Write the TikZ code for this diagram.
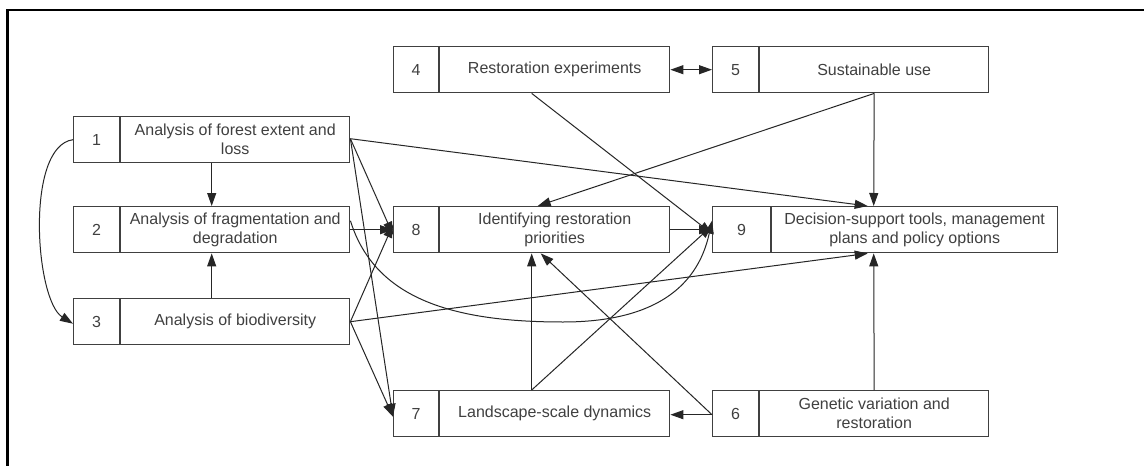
\documentclass[tikz,border=0pt]{standalone}
\usepackage{fontspec}
\setmainfont{Liberation Sans}
\usetikzlibrary{arrows.meta,calc}
\tikzset{
  box/.style={draw=black!75, line width=1.4pt, minimum height=46pt, inner sep=0pt, fill=white},
  boxline/.style={draw=black!75, line width=1.4pt},
  lbl/.style={font=\fontsize{16}{19}\selectfont, align=center, text=black!75, inner sep=0pt},
  conn/.style={draw=black!85, line width=1pt, -{Triangle[length=13pt,width=9pt]}},
  dconn/.style={draw=black!85, line width=1pt, {Triangle[length=13pt,width=9pt]}-{Triangle[length=13pt,width=9pt]}},
  frame/.style={draw=black, line width=2.6pt}
}
\newcommand\fbx[7]{%
  \node[box, minimum width=#4pt, anchor=north west] (#1) at (#2,#3) {};
  \draw[boxline] ([xshift=#5pt]#1.north west) -- ([xshift=#5pt]#1.south west);
  \node[lbl] (#1n) at ([xshift=#5pt/2]#1.west) {#6};
  \node[lbl] (#1t) at ([xshift=#5pt/2]#1.center) {#7};
}
\begin{document}
\begin{tikzpicture}[x=1pt,y=-1pt]
\useasboundingbox[fill=white] (0,0) rectangle (1144,466);
\coordinate (fa) at (7.5,466);
\coordinate (fb) at (7.5,10);
\coordinate (fc) at (1144,10);
\draw[frame] (fa) -- (fb) -- (fc);

\coordinate (c2a) at (375,300);
\coordinate (c2b) at (455,322);
\coordinate (c2m) at (563,322);
\coordinate (c2c) at (650,322);
\coordinate (c2d) at (697,290);
\coordinate (k1a) at (25,146);
\coordinate (k1b) at (35,300);

\fbx{b1}{73}{116}{276}{47}{1}{Analysis of forest extent and\\loss}
\fbx{b2}{73}{206}{276}{47}{2}{Analysis of fragmentation and\\degradation}
\fbx{b3}{73}{298}{276}{47}{3}{Analysis of biodiversity}
\fbx{b4}{393}{46}{276}{46}{4}{Restoration experiments}
\fbx{b5}{712}{46}{276}{47}{5}{Sustainable use}
\fbx{b8}{393}{206}{276}{46}{8}{Identifying restoration\\priorities}
\fbx{b9}{712}{206}{345}{59}{9}{Decision-support tools, management\\plans and policy options}
\fbx{b7}{393}{390}{276}{46}{7}{Landscape-scale dynamics}
\fbx{b6}{712}{390}{276}{47}{6}{Genetic variation and\\restoration}

\draw[conn] (b1.south) -- (b2.north);
\draw[conn] (b3.north) -- (b2.south);
\draw[conn] (b1.west) .. controls (k1a) and (k1b) .. ([yshift=-2pt]b3.west);
\draw[dconn] (b4.east) -- (b5.west);
\draw[conn] (b4.south) -- ([yshift=-4pt]b9.west);
\draw[conn] ([xshift=23.5pt]b5.south) -- ([xshift=-11.5pt]b9.north);
\draw[conn] ([xshift=23.5pt]b5.south) -- ([xshift=6pt]b8.north);
\draw[conn] ([yshift=1pt]b1.east) -- ([xshift=-17.5pt]b9.north);
\draw[conn] ([yshift=1pt]b1.east) -- ([yshift=-5pt]b8.west);
\draw[conn] ([yshift=1pt]b1.east) -- ([yshift=-3pt]b7.west);
\draw[conn] (b2.east) -- (b8.west);
\draw[conn] ([yshift=9pt]b2.east) .. controls (c2a) and (c2b) .. (c2m) .. controls (c2c) and (c2d) .. ([yshift=9pt]b9.west);
\draw[conn] (b3.east) -- ([yshift=5pt]b8.west);
\draw[conn] (b3.east) -- ([yshift=-3pt]b7.west);
\draw[conn] (b3.east) -- ([xshift=-17.5pt]b9.south);
\draw[conn] (b8.east) -- (b9.west);
\draw[conn] (b7.north) -- (b8.south);
\draw[conn] (b7.north) -- ([yshift=4pt]b9.west);
\draw[conn] ([yshift=-1pt]b6.west) -- ([yshift=-1pt]b7.east);
\draw[conn] ([yshift=-1pt]b6.west) -- ([xshift=9pt]b8.south);
\draw[conn] ([xshift=23.5pt]b6.north) -- ([xshift=-11.5pt]b9.south);
\end{tikzpicture}
\end{document}
